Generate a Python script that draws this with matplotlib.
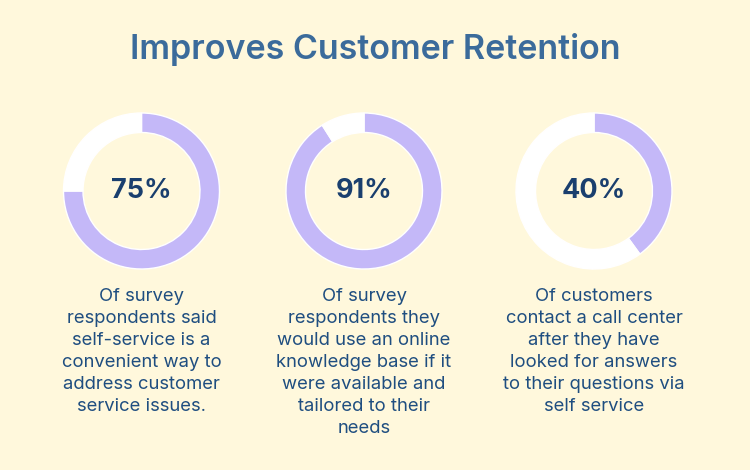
import matplotlib.pyplot as plt

# data
values = [75, 91, 40]
labels = ['75%', '91%', '40%']
captions = [
    'Of survey\nrespondents said\nself-service is a\nconvenient way to\naddress customer\nservice issues.',
    'Of survey\nrespondents they\nwould use an online\nknowledge base if it\nwere available and\ntailored to their\nneeds',
    'Of customers\ncontact a call center\nafter they have\nlooked for answers\nto their questions via\nself service',
]
title = 'Improves Customer Retention'

bg = '#FFF8DC'
lav = '#C4B8F8'
W, H = 750, 470

fig = plt.figure(figsize=(7.5, 4.7), dpi=100, facecolor=bg)
fig.text(375 / W, 1 - 50 / H, title, ha='center', va='center', fontsize=24.5,
         color='#3B6B9B', family='Inter', fontweight='semibold')

centers = [141.5, 364, 594]
r = 78
for cx, v, lab, cap in zip(centers, values, labels, captions):
    ax = fig.add_axes([(cx - r) / W, (H - 191 - r) / H, 2 * r / W, 2 * r / H])
    ax.pie([v, 100 - v], colors=[lav, 'white'], startangle=90, counterclock=False,
           wedgeprops=dict(width=0.25, edgecolor='white', linewidth=1))
    ax.set_xlim(-1, 1)
    ax.set_ylim(-1, 1)
    ax.set_facecolor('none')
    ax.text(0, 0, lab, ha='center', va='center', fontsize=19.5, fontweight='bold',
            color='#1A3F6E', family='Inter')
    fig.text(cx / W, 1 - 288 / H, cap, ha='center', va='top', fontsize=13.3,
             color='#1F4E80', family='Inter', linespacing=1.38)

fig.savefig('out.png', dpi=100, facecolor=bg)
